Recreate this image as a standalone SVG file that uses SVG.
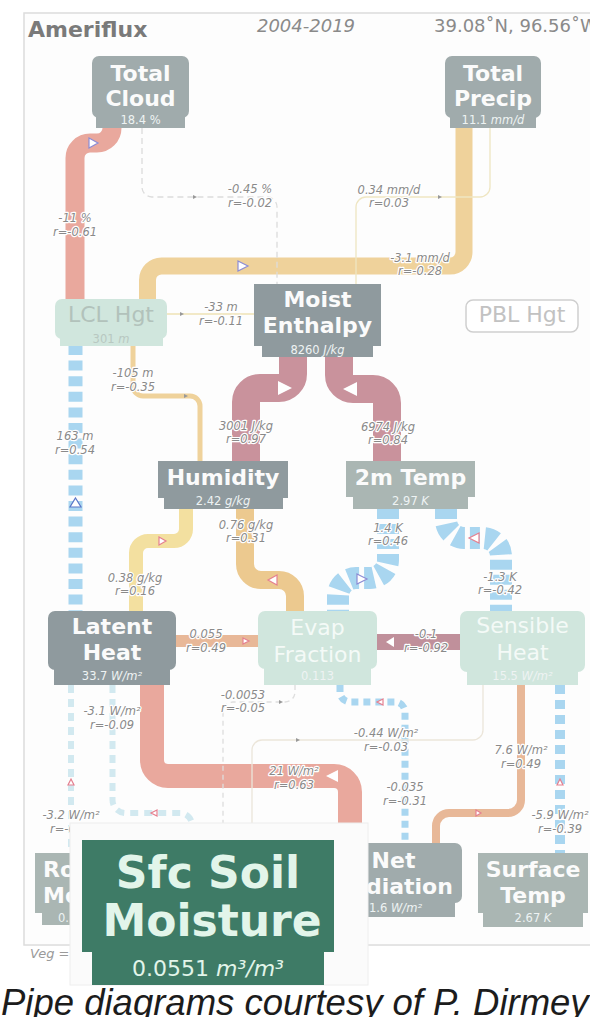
<svg xmlns="http://www.w3.org/2000/svg" width="590" height="1017" viewBox="0 0 590 1017">
<defs>
<style>
.pipe{fill:none;stroke-linecap:butt;stroke-linejoin:round}
.red{stroke:#e9a89d}
.tan{stroke:#efd29b}
.tan2{stroke:#ecc98f}
.yel{stroke:#f3e0a0}
.mauve{stroke:#c9929c}
.mauve2{stroke:#c0909b}
.peach{stroke:#e8b898}
.blue{stroke:#a9d6f0}
.cyan{stroke:#d2e9f0}
.thin{fill:none;stroke-width:1.3}
.lbl{font-family:"DejaVu Sans",sans-serif;font-style:italic;font-size:11.5px;fill:#8a8a8a;text-anchor:middle;stroke:#fff;stroke-width:2.4px;stroke-linejoin:round;paint-order:stroke}
.nt{font-family:"DejaVu Sans",sans-serif;font-weight:bold;font-size:22px;fill:#fbfbfb;text-anchor:middle}
.nl{font-family:"DejaVu Sans",sans-serif;font-size:22px;fill:#f4faf7;text-anchor:middle}
.nv{font-family:"DejaVu Sans",sans-serif;font-size:11.5px;fill:#eef3f3;text-anchor:middle}
.u{font-style:italic}
.dk{fill:#8f9a9e}
.md{fill:#a0abac}
.lt{fill:#aab6b3}
.mint{fill:#d0e6dd}
.tri{stroke-width:1.2;stroke-linejoin:miter}
.tw{fill:#fff;stroke:none}
.tp{fill:#fff;stroke:#8c8cd4}
.tb{fill:#fff;stroke:#5a76c8}
.tr{fill:#fff;stroke:#e58090}
.dot{fill:#999}
</style>
</defs>

<rect width="590" height="1017" fill="#fff"/>
<rect x="24" y="13" width="600" height="932" fill="#fdfdfd" stroke="#dcdcdc" stroke-width="1.5"/>

<!-- header -->
<text x="28" y="37" font-family="DejaVu Sans, sans-serif" font-weight="bold" font-size="22" fill="#7a7a7a">Ameriflux</text>
<text x="306" y="32" font-family="DejaVu Sans, sans-serif" font-style="italic" font-size="18" fill="#8a8a8a" text-anchor="middle">2004-2019</text>
<text x="434" y="32" font-family="DejaVu Sans, sans-serif" font-size="18" fill="#8a8a8a">39.08˚N, 96.56˚W</text>
<text x="30" y="958" font-family="DejaVu Sans, sans-serif" font-style="italic" font-size="13" fill="#9a9a9a">Veg =</text>

<g id="connectors">
  <!-- thick pipes -->
  <path class="pipe red" stroke-width="19" d="M112 128 A15 15 0 0 1 97 143 H90 A15 15 0 0 0 75 158 V299"/>
  <path class="pipe tan" stroke-width="17" d="M464 128 V252 A14 14 0 0 1 450 266 H161.5 A14 14 0 0 0 147.5 280 V299"/>
  <path class="pipe blue" stroke-width="14" stroke-dasharray="10 5.6" d="M75.5 345 V611"/>
  <path class="pipe tan" stroke-width="5" d="M133 345 V386 A10 10 0 0 0 143 396 H190 A10 10 0 0 1 200 406 V461"/>
  <path class="pipe mauve" stroke-width="28" d="M293 357 V374 A14 14 0 0 1 279 388 H260 A14 14 0 0 0 246 402 V461"/>
  <path class="pipe mauve" stroke-width="28" d="M339 357 V375 A14 14 0 0 0 353 389 H373 A14 14 0 0 1 387 403 V461"/>
  <path class="pipe blue" stroke-width="22" stroke-dasharray="10 5" d="M388 509 V560 A18 18 0 0 1 370 578 H356 A18 18 0 0 0 338 596 V611"/>
  <path class="pipe blue" stroke-width="22" stroke-dasharray="10 5" d="M446 509 V520 A18 18 0 0 0 464 538 H483 A18 18 0 0 1 501 556 V611"/>
  <path class="pipe yel" stroke-width="14" d="M186 509 V529 A12 12 0 0 1 174 541 H148 A12 12 0 0 0 136 553 V611"/>
  <path class="pipe tan2" stroke-width="18" d="M245 509 V564 A16 16 0 0 0 261 580 H279 A16 16 0 0 1 295 596 V611"/>
  <path class="pipe peach" stroke-width="12" d="M176 641 H258"/>
  <path class="pipe mauve2" stroke-width="16" d="M460 642 H377"/>
  <path class="pipe red" stroke-width="24" d="M152 685 V760 A16 16 0 0 0 168 776 H334 A16 16 0 0 1 350 792 V840"/>
  <path class="pipe cyan" stroke-width="6" stroke-dasharray="8 6" d="M71 685 V853"/>
  <path class="pipe cyan" stroke-width="6" stroke-dasharray="8 6" d="M112.5 685 V800 A13 13 0 0 0 125.5 813 H180 A12 12 0 0 1 192 825 V840"/>
  <path class="pipe blue" stroke-width="7" stroke-dasharray="7 5" d="M340 685 V692 A10 10 0 0 0 350 702 H395 A10 10 0 0 1 405 712 V843"/>
  <path class="pipe peach" stroke-width="8" d="M521 685 V800 A13 13 0 0 1 508 813 H449 A13 13 0 0 0 436 826 V843"/>
  <path class="pipe blue" stroke-width="10" stroke-dasharray="9 6" d="M560 685 V853"/>

  <!-- thin links -->
  <path class="thin" stroke="#dcdcdc" stroke-dasharray="6 4" d="M142 128 V187 A10 10 0 0 0 152 197 H267 A10 10 0 0 1 277 207 V284"/>
  <path class="thin" stroke="#efe6c2" stroke-width="2" d="M490 128 V187 A10 10 0 0 1 480 197 H366 A10 10 0 0 0 356 207 V284"/>
  <path class="thin" stroke="#eee2b4" stroke-width="2" d="M254 314 H167"/>
  <path class="thin" stroke="#dedede" stroke-dasharray="5 4" d="M295 685 V692 A10 10 0 0 1 285 702 H233 A10 10 0 0 0 223 712 V823"/>
  <path class="thin" stroke="#ece6da" d="M483 685 V730 A10 10 0 0 1 473 740 H262 A10 10 0 0 0 252 750 V823"/>

  <!-- flow arrows -->
  <polygon class="tri tp" points="89,138 98,143 89,148"/>
  <polygon class="tri tp" points="238,261 248,266 238,271"/>
  <polygon class="tri tw" points="278,381 292,388 278,395"/>
  <polygon class="tri tw" points="357,382 343,389 357,396"/>
  <polygon class="tri tb" points="75.5,498 81,507 70,507"/>
  <polygon class="tri tp" points="357,574 367,579 357,584"/>
  <polygon class="tri tr" points="479,533 469,538 479,543"/>
  <polygon class="tri tr" points="159,537 166,541 159,545"/>
  <polygon class="tri tr" points="277,575 268,580 277,585"/>
  <polygon class="tri tr" points="243,638 249,641 243,644"/>
  <polygon class="tri tw" points="394,637 386,642 394,647"/>
  <polygon class="tri tw" points="338,770 326,776 338,782"/>
  <polygon class="tri tr" points="71,779 74,785 68,785"/>
  <polygon class="tri tr" points="157,810 151,813 157,816"/>
  <polygon class="tri tr" points="383,699 377,702 383,705"/>
  <polygon class="tri tr" points="476,810 481,813 476,816"/>
  <polygon class="tri tr" points="560,779 563,785 557,785"/>
  <polygon class="dot" points="193,195 197,197 193,199"/>
  <polygon class="dot" points="438,195 442,197 438,199"/>
  <polygon class="dot" points="180,312 184,314 180,316"/>
  <polygon class="dot" points="184,394 188,396 184,398"/>
  <polygon class="dot" points="279,700 283,702 279,704"/>
  <polygon class="dot" points="296,738 300,740 296,742"/>

  <!-- link labels -->
  <text class="lbl" x="75" y="222">-11 %</text><text class="lbl" x="75" y="236">r=-0.61</text>
  <text class="lbl" x="250" y="193">-0.45 %</text><text class="lbl" x="250" y="207">r=-0.02</text>
  <text class="lbl" x="389" y="194">0.34 mm/d</text><text class="lbl" x="389" y="207">r=0.03</text>
  <text class="lbl" x="420" y="262">-3.1 mm/d</text><text class="lbl" x="420" y="275">r=-0.28</text>
  <text class="lbl" x="221" y="311">-33 m</text><text class="lbl" x="221" y="325">r=-0.11</text>
  <text class="lbl" x="133" y="377">-105 m</text><text class="lbl" x="133" y="391">r=-0.35</text>
  <text class="lbl" x="246" y="430">3001 J/kg</text><text class="lbl" x="246" y="443">r=0.97</text>
  <text class="lbl" x="388" y="431">6974 J/kg</text><text class="lbl" x="388" y="444">r=0.84</text>
  <text class="lbl" x="75" y="440">163 m</text><text class="lbl" x="75" y="454">r=0.54</text>
  <text class="lbl" x="246" y="529">0.76 g/kg</text><text class="lbl" x="246" y="542">r=0.31</text>
  <text class="lbl" x="388" y="532">1.4 K</text><text class="lbl" x="388" y="545">r=0.46</text>
  <text class="lbl" x="135" y="582">0.38 g/kg</text><text class="lbl" x="135" y="595">r=0.16</text>
  <text class="lbl" x="500" y="581">-1.3 K</text><text class="lbl" x="500" y="594">r=-0.42</text>
  <text class="lbl" x="206" y="638">0.055</text><text class="lbl" x="206" y="652">r=0.49</text>
  <text class="lbl" x="426" y="638">-0.1</text><text class="lbl" x="426" y="652">r=-0.92</text>
  <text class="lbl" x="243" y="699">-0.0053</text><text class="lbl" x="243" y="712">r=-0.05</text>
  <text class="lbl" x="112" y="715">-3.1 W/m²</text><text class="lbl" x="112" y="729">r=-0.09</text>
  <text class="lbl" x="386" y="737">-0.44 W/m²</text><text class="lbl" x="386" y="751">r=-0.03</text>
  <text class="lbl" x="521" y="754">7.6 W/m²</text><text class="lbl" x="521" y="768">r=0.49</text>
  <text class="lbl" x="294" y="775">21 W/m²</text><text class="lbl" x="294" y="789">r=0.63</text>
  <text class="lbl" x="405" y="791">-0.035</text><text class="lbl" x="405" y="805">r=-0.31</text>
  <text class="lbl" x="71" y="819">-3.2 W/m²</text><text class="lbl" x="50" y="833" style="text-anchor:start">r=-0</text>
  <text class="lbl" x="560" y="819">-5.9 W/m²</text><text class="lbl" x="560" y="833">r=-0.39</text>
</g>

<g id="total-cloud">
  <rect class="md" x="92" y="56" width="97" height="62" rx="7"/>
  <rect class="md" x="96" y="110" width="89" height="18"/>
  <text class="nt" x="140.5" y="81">Total</text>
  <text class="nt" x="140.5" y="106">Cloud</text>
  <text class="nv" x="140.5" y="124">18.4 %</text>
</g>

<g id="total-precip">
  <rect class="md" x="445" y="56" width="96" height="62" rx="7"/>
  <rect class="md" x="450" y="110" width="86" height="18"/>
  <text class="nt" x="493" y="81">Total</text>
  <text class="nt" x="493" y="106">Precip</text>
  <text class="nv" x="493" y="124">11.1 <tspan class="u">mm/d</tspan></text>
</g>

<g id="lcl-hgt">
  <rect class="mint" x="55" y="299" width="112" height="40" rx="7"/>
  <rect class="mint" x="60" y="333" width="103" height="13"/>
  <text class="nl" x="111" y="322" style="fill:#b2c2bb">LCL Hgt</text>
  <text class="nv" x="111" y="343" style="fill:#b8c8c1">301 <tspan class="u">m</tspan></text>
</g>

<g id="pbl-hgt">
  <rect x="466" y="300" width="112" height="32" rx="7" fill="#fff" stroke="#cfcfcf" stroke-width="1.5"/>
  <text class="nl" x="522" y="322" style="fill:#c2c2c2">PBL Hgt</text>
</g>

<g id="moist-enthalpy">
  <rect class="dk" x="254" y="284" width="127" height="62"/>
  <rect class="dk" x="262" y="345" width="111" height="12"/>
  <text class="nt" x="317.5" y="307">Moist</text>
  <text class="nt" x="317.5" y="333">Enthalpy</text>
  <text class="nv" x="317.5" y="354">8260 <tspan class="u">J/kg</tspan></text>
</g>

<g id="humidity">
  <rect class="dk" x="158" y="461" width="130" height="37"/>
  <rect class="dk" x="164" y="497" width="119" height="12"/>
  <text class="nt" x="223" y="485">Humidity</text>
  <text class="nv" x="223" y="505">2.42 <tspan class="u">g/kg</tspan></text>
</g>

<g id="temp-2m">
  <rect class="lt" x="346" y="461" width="129" height="36"/>
  <rect class="lt" x="353" y="496" width="115" height="13"/>
  <text class="nt" x="410.5" y="485">2m Temp</text>
  <text class="nv" x="410.5" y="505">2.97 <tspan class="u">K</tspan></text>
</g>

<g id="latent-heat">
  <rect class="dk" x="48" y="611" width="128" height="59" rx="7"/>
  <rect class="dk" x="54" y="666" width="116" height="19"/>
  <text class="nt" x="112" y="634">Latent</text>
  <text class="nt" x="112" y="660">Heat</text>
  <text class="nv" x="112" y="680">33.7 <tspan class="u">W/m²</tspan></text>
</g>

<g id="evap-fraction">
  <rect class="mint" x="258" y="611" width="119" height="58" rx="7"/>
  <rect class="mint" x="264" y="665" width="107" height="20"/>
  <text class="nl" x="317.5" y="635">Evap</text>
  <text class="nl" x="317.5" y="662">Fraction</text>
  <text class="nv" x="317.5" y="680">0.113</text>
</g>

<g id="sensible-heat">
  <rect class="mint" x="460" y="611" width="125" height="61" rx="7"/>
  <rect class="mint" x="467" y="666" width="111" height="19"/>
  <text class="nl" x="522.5" y="633">Sensible</text>
  <text class="nl" x="522.5" y="660">Heat</text>
  <text class="nv" x="522.5" y="680">15.5 <tspan class="u">W/m²</tspan></text>
</g>

<g id="root-moisture">
  <rect class="lt" x="35" y="853" width="60" height="60"/>
  <rect class="lt" x="42" y="910" width="50" height="15"/>
  <text class="nt" x="43" y="877" style="text-anchor:start">Ro</text>
  <text class="nt" x="43" y="903" style="text-anchor:start">Mo</text>
  <text class="nv" x="58" y="922" style="text-anchor:start">0.</text>
</g>

<g id="net-radiation">
  <rect class="md" x="325" y="843" width="137" height="60" rx="7"/>
  <rect class="md" x="331" y="900" width="124" height="17"/>
  <text class="nt" x="393.5" y="868">Net</text>
  <text class="nt" x="393.5" y="894">Radiation</text>
  <text class="nv" x="369" y="912" style="text-anchor:start">1.6 <tspan class="u">W/m²</tspan></text>
</g>

<g id="surface-temp">
  <rect class="lt" x="478" y="853" width="110" height="60"/>
  <rect class="lt" x="483" y="910" width="100" height="17"/>
  <text class="nt" x="533" y="877">Surface</text>
  <text class="nt" x="533" y="903">Temp</text>
  <text class="nv" x="533" y="922">2.67 <tspan class="u">K</tspan></text>
</g>

<!-- enlarged soil moisture node, drawn over its neighbours -->
<g id="sfc-soil-moisture">
  <rect x="70" y="823" width="298" height="162" fill="#fbfbfb" stroke="#eeeeee" stroke-width="1"/>
  <rect x="82" y="840" width="252" height="112" fill="#3e7b66"/>
  <rect x="92" y="950" width="232" height="35" fill="#3e7b66"/>
  <text x="208" y="888" font-family="DejaVu Sans, sans-serif" font-weight="bold" font-size="44" fill="#e2f5ea" text-anchor="middle">Sfc Soil</text>
  <text x="212" y="936" font-family="DejaVu Sans, sans-serif" font-weight="bold" font-size="44" fill="#e2f5ea" text-anchor="middle">Moisture</text>
  <text x="208" y="976" font-family="DejaVu Sans, sans-serif" font-size="22" fill="#e2f5ea" text-anchor="middle">0.0551 <tspan font-style="italic">m³/m³</tspan></text>
</g>

<text x="1" y="1015" font-family="Liberation Sans, Arial, sans-serif" font-style="italic" font-size="36.5" fill="#1c1c1c">Pipe diagrams courtesy of P. Dirmey</text>
</svg>
